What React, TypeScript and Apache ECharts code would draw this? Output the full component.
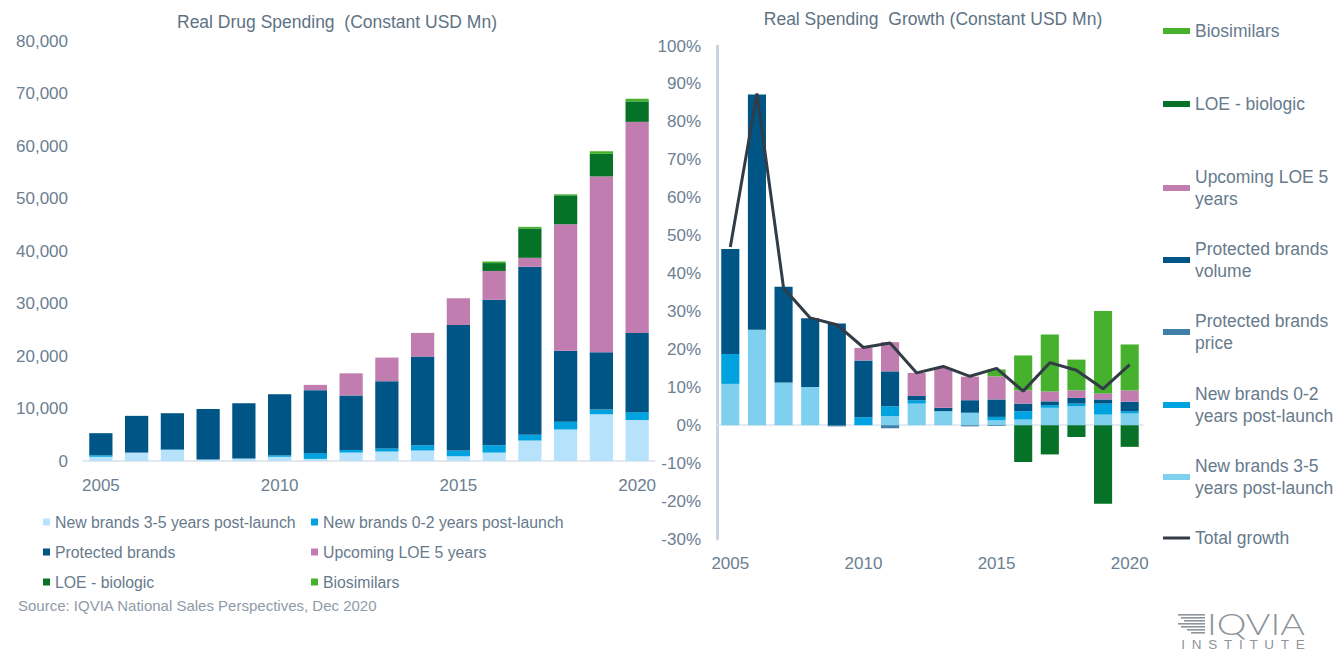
import React, { useEffect, useRef } from "react";
import * as echarts from "echarts";

const years = ["2005","2006","2007","2008","2009","2010","2011","2012","2013","2014","2015","2016","2017","2018","2019","2020"];

// Left chart: Real drug spending (constant USD Mn)
const new35L = [800, 1600, 2100, 300, 500, 800, 400, 1600, 1800, 2000, 900, 1600, 3900, 6000, 8900, 7800];
const new02L = [300, 0, 100, 0, 0, 300, 1100, 500, 600, 1000, 1100, 1400, 1100, 1500, 900, 1500];
const protectedL = [4200, 7000, 6900, 9600, 10500, 11600, 12000, 10400, 12800, 16900, 23900, 27700, 32000, 13500, 10900, 15100];
const upcomingL = [0, 0, 0, 0, 0, 0, 1000, 4200, 4500, 4500, 5100, 5500, 1700, 24100, 33500, 40200];
const loeBioL = [0, 0, 0, 0, 0, 0, 0, 0, 0, 0, 0, 1500, 5600, 5500, 4300, 3900];
const biosimL = [0, 0, 0, 0, 0, 0, 0, 0, 0, 0, 0, 300, 300, 200, 500, 500];

// Right chart: Real spending growth (%)
const new35R = [10.9, 25.2, 11.3, 10.1, 0, 0, 2.4, 5.7, 3.7, 3.3, 1.3, 1.5, 4.6, 5.0, 2.8, 3.1];
const new02R = [7.9, 0, 0, 0, 0, 2.1, 2.6, 0.9, 0, 0, 0.9, 2.2, 0.7, 0.7, 2.9, 0.6];
const priceR = [0, 0, 0, 0, -0.3, 0, -0.8, 0, 0, -0.3, -0.2, 0, 0, 0, 0, 0];
const volumeR = [27.7, 62.0, 25.2, 18.1, 26.8, 15.0, 9.2, 1.1, 0.9, 3.3, 4.6, 2.0, 1.0, 1.5, 1.1, 2.5];
const upcomingR = [0, 0, 0, 0, 0, 3.3, 7.7, 6.1, 10.5, 6.2, 6.1, 3.5, 2.6, 2.0, 1.6, 3.0];
const loeBioR = [0, 0, 0, 0, 0, 0, 0, 0, 0, 0, 0, -9.7, -7.7, -3.1, -20.7, -5.7];
const biosimR = [0, 0, 0, 0, 0, 0, 0, 0, 0, 0, 1.8, 9.2, 15.0, 8.1, 21.7, 12.1];
const totalR = [47.0, 87.5, 36.2, 28.3, 26.5, 20.5, 21.7, 13.8, 15.5, 12.9, 15.0, 9.0, 16.5, 14.5, 9.6, 16.0];

const yTicksLeft = { min: 0, max: 80000, interval: 10000 };
const yTicksRight = { min: -30, max: 100, interval: 10 };

const C = {
  light35L: "#b7e2fb",
  light35R: "#7fd0ef",
  new02: "#00a3e0",
  prot: "#005587",
  price: "#3f7fa8",
  pink: "#c27db0",
  loe: "#067228",
  bio: "#46b12c",
  line: "#323c46",
  axisText: "#6b8092",
  title: "#5e7284",
  legend: "#677a8c",
};

const FONT = "'Liberation Sans', Arial, sans-serif";

export default function App() {
  const ref = useRef<HTMLDivElement>(null);
  useEffect(() => {
    if (!ref.current) return;
    const chart = echarts.init(ref.current, null, { renderer: "svg" });

    const barL = (name: string, data: number[], color: string) => ({
      name, type: "bar", data, stack: "L", xAxisIndex: 0, yAxisIndex: 0,
      barCategoryGap: "35%", itemStyle: { color }, emphasis: { disabled: true },
    });
    const barR = (name: string, data: number[], color: string) => ({
      name, type: "bar", data, stack: "R", xAxisIndex: 1, yAxisIndex: 1,
      barCategoryGap: "32%", itemStyle: { color }, emphasis: { disabled: true },
    });

    const rightLegend = (name: string, firstLineY: number, twoLine: boolean, itemHeight = 6) => ({
      orient: "vertical", left: 1163, top: twoLine ? firstLineY - 22 : firstLineY - 11,
      padding: 0, itemWidth: 27, itemHeight, icon: "rect", selectedMode: false,
      data: [name],
      textStyle: {
        fontSize: 17.5, fontFamily: FONT, color: C.legend, lineHeight: 22,
        padding: twoLine ? [22, 0, 0, 0] : 0,
      },
    });

    const logoLines = [27, 24, 21, 27, 24, 18, 14].map((w, i) => ({
      type: "rect", shape: { x: 1205 - w, y: 614 + i * 3, width: w, height: 1.6 },
      style: { fill: "#8d949b" },
    }));

    const option: any = {
      animation: false,
      textStyle: { fontFamily: FONT },
      grid: [
        { left: 83, right: 685, top: 41, bottom: 194, containLabel: false },
        { left: 717, right: 197, top: 46, bottom: 116, containLabel: false },
      ],
      xAxis: [
        {
          type: "category", gridIndex: 0, data: years,
          axisLine: { lineStyle: { color: "#d9e1e8", width: 1.5 } },
          axisTick: { show: false },
          axisLabel: { interval: 4, color: C.axisText, fontSize: 17, margin: 16 },
        },
        {
          type: "category", gridIndex: 1, data: years,
          axisLine: { show: false, onZero: false },
          axisTick: { show: false },
          axisLabel: { interval: 4, color: C.axisText, fontSize: 17, margin: 16 },
        },
        {
          type: "category", gridIndex: 1, data: years,
          axisLine: { show: true, onZero: true, lineStyle: { color: "#dce4eb", width: 1.5 } },
          axisTick: { show: false },
          axisLabel: { show: false },
        },
      ],
      yAxis: [
        {
          type: "value", gridIndex: 0, ...yTicksLeft,
          axisLine: { show: false }, axisTick: { show: false }, splitLine: { show: false },
          axisLabel: {
            color: C.axisText, fontSize: 17, margin: 15,
            formatter: (v: number) => v.toLocaleString("en-US"),
          },
        },
        {
          type: "value", gridIndex: 1, ...yTicksRight,
          axisLine: { show: true, lineStyle: { color: "#c9d5de", width: 3 } },
          axisTick: { show: false }, splitLine: { show: false },
          axisLabel: { color: C.axisText, fontSize: 17, margin: 16, formatter: (v: number) => v + "%" },
        },
      ],
      legend: [
        {
          orient: "vertical", left: 43, top: 513, padding: 0, itemGap: 12,
          itemWidth: 7, itemHeight: 7, icon: "rect", selectedMode: false,
          data: ["New brands 3-5 years post-launch", "Protected brands", "LOE - biologic"],
          textStyle: { fontSize: 15.8, color: C.legend, lineHeight: 18, fontFamily: FONT },
        },
        {
          orient: "vertical", left: 311, top: 513, padding: 0, itemGap: 12,
          itemWidth: 7, itemHeight: 7, icon: "rect", selectedMode: false,
          data: ["New brands 0-2 years post-launch", "Upcoming LOE 5 years", "Biosimilars"],
          textStyle: { fontSize: 15.8, color: C.legend, lineHeight: 18, fontFamily: FONT },
        },
        rightLegend("Biosimilars", 31, false),
        rightLegend("LOE - biologic", 104, false),
        rightLegend("Upcoming LOE 5\nyears", 177, true),
        rightLegend("Protected brands\nvolume", 249, true),
        rightLegend("Protected brands\nprice", 321, true),
        rightLegend("New brands 0-2\nyears post-launch", 394, true),
        rightLegend("New brands 3-5\nyears post-launch", 466, true),
        rightLegend("Total growth", 538, false, 3),
      ],
      graphic: [
        {
          type: "text", x: 337, y: 22,
          style: { text: "Real Drug Spending  (Constant USD Mn)", fontSize: 17.5, fontFamily: FONT, fill: C.title, align: "center", verticalAlign: "middle" },
        },
        {
          type: "text", x: 933, y: 19,
          style: { text: "Real Spending  Growth (Constant USD Mn)", fontSize: 17.5, fontFamily: FONT, fill: C.title, align: "center", verticalAlign: "middle" },
        },
        {
          type: "text", x: 18, y: 605,
          style: { text: "Source: IQVIA National Sales Perspectives, Dec 2020", fontSize: 15, fontFamily: FONT, fill: "#8f9ba7", align: "left", verticalAlign: "middle" },
        },
        ...logoLines,
        {
          type: "text", x: 1207, y: 623, scaleX: 1.25,
          style: { text: "IQVIA", fontSize: 30, fontFamily: "Lato, 'Open Sans', sans-serif", fontWeight: 300, fill: "#8d949b", align: "left", verticalAlign: "middle" },
        },
        {
          type: "text", x: 1243, y: 644,
          style: { text: "I\u2002N\u2002S\u2002T\u2002I\u2002T\u2002U\u2002T\u2002E", fontSize: 13.5, fontFamily: FONT, fill: "#8d949b", align: "center", verticalAlign: "middle" },
        },
      ],
      series: [
        barL("New brands 3-5 years post-launch", new35L, C.light35L),
        barL("New brands 0-2 years post-launch", new02L, C.new02),
        barL("Protected brands", protectedL, C.prot),
        barL("Upcoming LOE 5 years", upcomingL, C.pink),
        barL("LOE - biologic", loeBioL, C.loe),
        barL("Biosimilars", biosimL, C.bio),
        barR("New brands 3-5\nyears post-launch", new35R, C.light35R),
        barR("New brands 0-2\nyears post-launch", new02R, C.new02),
        barR("Protected brands\nprice", priceR, C.price),
        barR("Protected brands\nvolume", volumeR, C.prot),
        barR("Upcoming LOE 5\nyears", upcomingR, C.pink),
        barR("LOE - biologic", loeBioR, C.loe),
        barR("Biosimilars", biosimR, C.bio),
        {
          name: "Total growth", type: "line", data: totalR, xAxisIndex: 1, yAxisIndex: 1,
          symbol: "none", z: 5, lineStyle: { color: C.line, width: 3 }, itemStyle: { color: C.line },
          emphasis: { disabled: true },
        },
      ],
    };
    chart.setOption(option);
    return () => chart.dispose();
  }, []);
  return <div ref={ref} style={{ position: "absolute", left: 0, top: 0, width: 1340, height: 655 }} />;
}
